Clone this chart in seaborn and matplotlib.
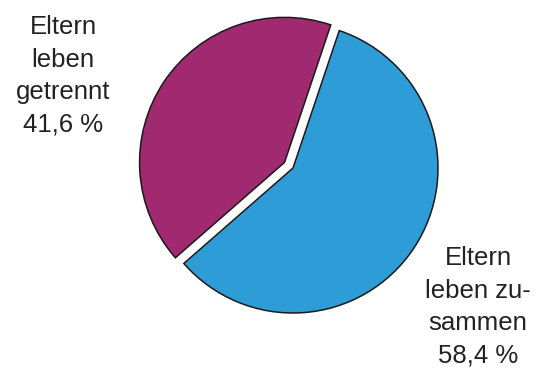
import matplotlib
matplotlib.use("Agg")
import matplotlib.pyplot as plt
import seaborn as sns

# Family situation shares
categories = ["Eltern\nleben zu-\nsammen", "Eltern\nleben\ngetrennt"]
shares = [58.4, 41.6]
value_labels = ["58,4 %", "41,6 %"]
colors = ["#2E9DD7", "#A0296F"]
explode = [0.0, 0.07]

sns.set_theme(style="white")
plt.rcParams["font.family"] = ["Liberation Sans", "DejaVu Sans"]

W, H = 544, 377
fig = plt.figure(figsize=(W / 100, H / 100), dpi=100)
ax = fig.add_axes([0, 0, 1, 1])

# pie centre and radius in pixels
cx, cy, r = 293, 168, 145
ax.pie(shares, colors=colors, explode=explode, startangle=71.4,
       counterclock=False, radius=1,
       wedgeprops=dict(edgecolor="#1a1a1a", linewidth=1.1))
ax.set_xlim(-cx / r, (W - cx) / r)
ax.set_ylim(-(H - cy) / r, cy / r)
ax.set_aspect("auto")
ax.axis("off")

label_pos = [(478, 307), (63, 76)]
for cat, val, (px, py) in zip(categories, value_labels, label_pos):
    fig.text(px / W, 1 - py / H, f"{cat}\n{val}", ha="center", va="center",
             fontsize=18.5, color="#222222", linespacing=1.45)

fig.savefig("out.png", dpi=100)
